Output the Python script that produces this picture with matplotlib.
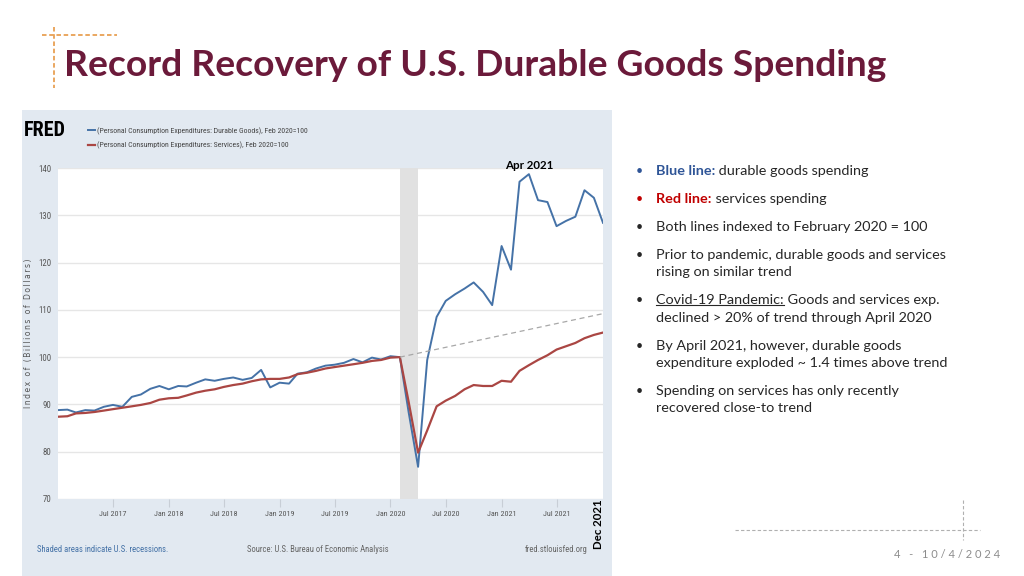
import pandas as pd
import matplotlib.pyplot as plt
import matplotlib.dates as mdates
from matplotlib.patches import Rectangle

# dados (indice, fev 2020 = 100)
meses = pd.date_range('2017-01-01', '2021-12-01', freq='MS')
duraveis = [88.8, 88.9, 88.3, 88.8, 88.7, 89.5, 89.9, 89.5, 91.6, 92.1, 93.3, 93.9,
            93.2, 93.9, 93.8, 94.6, 95.3, 95.0, 95.4, 95.7, 95.2, 95.6, 97.3, 93.6,
            94.6, 94.4, 96.5, 96.8, 97.6, 98.2, 98.4, 98.8, 99.6, 98.9, 99.9, 99.5,
            100.2, 100.0, 88.3, 76.8, 99.4, 108.5, 111.9, 113.3, 114.5, 115.8, 113.8, 111.0,
            123.5, 118.5, 137.1, 138.7, 133.2, 132.8, 127.7, 128.8, 129.7, 135.3, 133.7, 128.4]
servicos = [87.4, 87.5, 88.1, 88.2, 88.4, 88.7, 89.0, 89.3, 89.6, 89.9, 90.3, 91.0,
            91.3, 91.4, 91.9, 92.5, 92.9, 93.2, 93.7, 94.1, 94.4, 94.9, 95.3, 95.4,
            95.4, 95.7, 96.4, 96.7, 97.1, 97.6, 97.9, 98.2, 98.5, 98.8, 99.2, 99.4,
            99.9, 100.0, 90.5, 79.8, 84.5, 89.6, 90.8, 91.8, 93.2, 94.1, 93.9, 93.9,
            95.0, 94.8, 97.1, 98.3, 99.4, 100.4, 101.6, 102.3, 103.0, 104.0, 104.7, 105.2]
tendencia_datas = ['2020-02-01', '2021-12-01']
tendencia_valores = [100, 109.2]
recessao = ['2020-02-01', '2020-04-01']
pico = '2021-04-01'
legenda = ['(Personal Consumption Expenditures: Durable Goods), Feb 2020=100',
           '(Personal Consumption Expenditures: Services), Feb 2020=100']

titulo = 'Record Recovery of U.S. Durable Goods Spending'
bullets = [
    [('Blue line:', 'bold', '#2F5597'), (' durable goods spending', 'normal', '#262626')],
    [('Red line:', 'bold', '#C00000'), (' services spending', 'normal', '#262626')],
    [('Both lines indexed to February 2020 = 100', 'normal', '#262626')],
    [('Prior to pandemic, durable goods and services', 'normal', '#262626')],
    [('rising on similar trend', 'normal', '#262626')],
    [('Covid-19 Pandemic:', 'under', '#262626'), (' Goods and services exp.', 'normal', '#262626')],
    [('declined > 20% of trend through April 2020', 'normal', '#262626')],
    [('By April 2021, however, durable goods', 'normal', '#262626')],
    [('expenditure exploded ~ 1.4 times above trend', 'normal', '#262626')],
    [('Spending on services has only recently', 'normal', '#262626')],
    [('recovered close-to trend', 'normal', '#262626')],
]
bullet_y = [171, 199, 227, 255, 272, 300, 318, 346, 363, 391, 408]
tem_bullet = [True, True, True, True, False, True, False, True, False, True, False]
cor_bullet = ['#2F5597', '#C00000'] + ['#262626'] * 9

NARROW = ['Liberation Sans Narrow', 'Roboto Condensed', 'DejaVu Sans']
SLIDE = ['Lato', 'DejaVu Sans']
AZUL = '#4572A7'
VERMELHO = '#AA4643'

fig = plt.figure(figsize=(10.24, 5.76), dpi=100)
fig.patch.set_facecolor('white')

# camada de fundo em pixels
bg = fig.add_axes([0, 0, 1, 1], zorder=0)
bg.set_xlim(0, 1024)
bg.set_ylim(576, 0)
bg.axis('off')

bg.add_patch(Rectangle((22, 110), 590, 470, facecolor='#E2E9F1', edgecolor='none'))
bg.plot([42, 117], [35, 35], ls=(0, (2.5, 1.5)), color='#E8A054', lw=1.3)
bg.plot([54, 54], [27, 88], ls=(0, (2.5, 1.5)), color='#E8A054', lw=1.3)
bg.text(64, 66, titulo, fontsize=26.8, fontweight='bold', color='#6B1A3A',
        family=SLIDE, va='center', ha='left')

bg.text(24, 131, 'FRED', fontsize=14.5, fontweight='bold', color='black',
        family=NARROW, stretch='condensed', va='center', ha='left')

bg.text(29, 333, '\u2009'.join('Index of (Billions of Dollars)'), fontsize=5.5,
        color='#555555', rotation=90, va='center', ha='center')
bg.text(37, 550, 'Shaded areas indicate U.S. recessions.', fontsize=6.2, color='#4572A7',
        family=NARROW, stretch='condensed', va='center', ha='left')
bg.text(247, 550, 'Source: U.S. Bureau of Economic Analysis', fontsize=6.2, color='#666666',
        family=NARROW, stretch='condensed', va='center', ha='left')
bg.text(587, 550, 'fred.stlouisfed.org', fontsize=6.2, color='#666666',
        family=NARROW, stretch='condensed', va='center', ha='right')

bg.text(598, 524, 'Dec 2021', fontsize=8.3, fontweight='bold', color='black',
        family=SLIDE, va='center', ha='center', rotation=90)

# texto da direita
sublinhados = []
for linha, y, b, cb in zip(bullets, bullet_y, tem_bullet, cor_bullet):
    if b:
        bg.text(636, y, '\u2022', fontsize=9, color=cb, family=SLIDE, va='center', ha='left')
    anterior = None
    for txt, estilo, cor in linha:
        peso = 'bold' if estilo == 'bold' else 'normal'
        if anterior is None:
            t = bg.text(656, y, txt, fontsize=10.4, fontweight=peso, color=cor,
                        family=SLIDE, va='center', ha='left')
        else:
            t = bg.annotate(txt, xy=(1, 0), xycoords=anterior, fontsize=10.4, fontweight=peso,
                            color=cor, family=SLIDE, va='bottom', ha='left')
        if estilo == 'under':
            sublinhados.append(t)
        anterior = t

# rodape
bg.plot([735, 980], [530, 530], ls=(0, (3, 2)), color='#B0B0B0', lw=0.8)
bg.plot([963, 963], [500, 540], ls=(0, (3, 2)), color='#B0B0B0', lw=0.8)
bg.text(1000, 555, '4   -   1 0 / 4 / 2 0 2 4', fontsize=8, color='#8C8C8C',
        family=SLIDE, va='center', ha='right')

# grafico FRED
ax = fig.add_axes([58 / 1024, 1 - 499 / 576, 545 / 1024, 331 / 576], zorder=1)
ax.set_facecolor('white')
ax.axvspan(pd.Timestamp(recessao[0]), pd.Timestamp(recessao[1]), color='#E1E1E1', lw=0)
l1, = ax.plot(meses, duraveis, color=AZUL, lw=1.4, label=legenda[0])
l2, = ax.plot(meses, servicos, color=VERMELHO, lw=1.6, label=legenda[1])
ax.plot(pd.to_datetime(tendencia_datas), tendencia_valores, color='#A8A8A8', lw=0.9,
        ls=(0, (4, 3)))

# rotulo do pico (acima da area do grafico)
ax.annotate('Apr 2021', xy=(pd.Timestamp(pico), 1.0), xycoords=('data', 'axes fraction'),
            xytext=(0, 2), textcoords='offset points', ha='center', va='center',
            fontsize=8.3, fontweight='bold', color='black', family=SLIDE,
            annotation_clip=False)

ax.set_xlim(meses[0], meses[-1])
ax.set_ylim(70, 140)
ax.set_yticks(range(70, 141, 10))
ax.grid(axis='y', color='#E6E6E6', lw=1)
ax.set_axisbelow(True)
for s in ax.spines.values():
    s.set_visible(False)

ticks = list(pd.date_range('2017-07-01', '2021-07-01', freq='6MS'))
ax.set_xticks(ticks)
ax.xaxis.set_major_formatter(mdates.DateFormatter('%b %Y'))
ax.tick_params(axis='x', length=6, color='#C8CED6', pad=3, labelsize=5.8, labelcolor='#555555')
ax.tick_params(axis='y', length=0, pad=5, labelsize=6.3, labelcolor='#555555')
for lb in ax.get_xticklabels() + ax.get_yticklabels():
    lb.set_family(NARROW)
    lb.set_stretch('condensed')

fig.legend(handles=[l1, l2], loc='upper left', bbox_to_anchor=(84 / 1024, 1 - 123 / 576),
           frameon=False, prop={'family': NARROW, 'size': 5.6, 'stretch': 'condensed'},
           handlelength=0.9, handletextpad=0.25, labelspacing=0.9, borderpad=0,
           labelcolor='#444444')

# sublinhado do "Covid-19 Pandemic:"
fig.canvas.draw()
for t in sublinhados:
    bb = t.get_window_extent().transformed(bg.transData.inverted())
    bg.plot([bb.x0, bb.x1], [bb.y0 - 1.5, bb.y0 - 1.5], color='#262626', lw=0.8)

plt.savefig('out.png', dpi=100)
